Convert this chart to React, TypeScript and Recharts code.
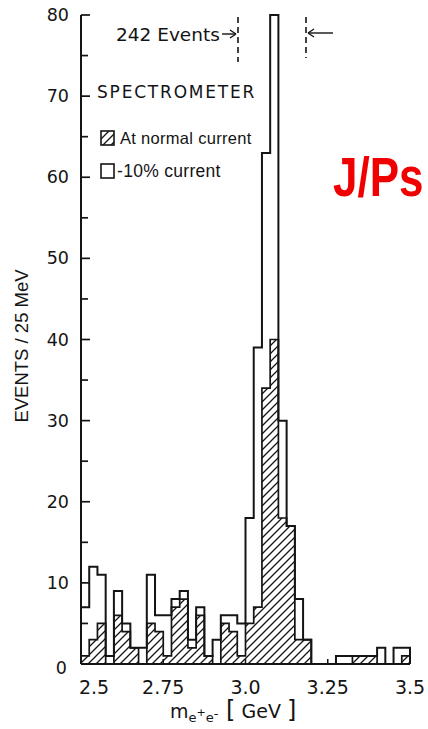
import React from 'react';
import { ComposedChart, Area, XAxis, YAxis } from 'recharts';

// lower edge of each 25 MeV bin
const binEdges = [
  2.5, 2.525, 2.55, 2.575, 2.6, 2.625, 2.65, 2.675, 2.7, 2.725,
  2.75, 2.775, 2.8, 2.825, 2.85, 2.875, 2.9, 2.925, 2.95, 2.975,
  3.0, 3.025, 3.05, 3.075, 3.1, 3.125, 3.15, 3.175, 3.2, 3.225,
  3.25, 3.275, 3.3, 3.325, 3.35, 3.375, 3.4, 3.425, 3.45, 3.475,
];
const rangeEnd = 3.5;

// open histogram (-10% current)
const totalCounts = [
  7, 12, 11, 1, 9, 5, 2, 2, 11, 6,
  6, 8, 9, 3, 7, 1, 3, 6, 6, 5,
  18, 39, 63, 80, 30, 17, 8, 3, 0, 0,
  0, 1, 1, 1, 1, 1, 2, 0, 2, 2,
];
// hatched histogram (normal current)
const normalCounts = [
  1, 3, 5, 0, 6, 4, 2, 0, 5, 4,
  1, 7, 8, 2, 6, 1, 0, 5, 4, 1,
  5, 7, 34, 40, 18, 17, 3, 3, 0, 0,
  0, 0, 0, 1, 1, 1, 0, 0, 0, 1,
];

const massTicks = [2.5, 2.75, 3.0, 3.25, 3.5];
const massTickLabels = ['2.5', '2.75', '3.0', '3.25', '3.5'];
const countTicks = [0, 5, 10, 15, 20, 25, 30, 35, 40, 45, 50, 55, 60, 65, 70, 75, 80];

const INK = '#141414';
const LETTER = '"DejaVu Sans", sans-serif';
const NARROW = '"Liberation Sans Narrow", "Liberation Sans", sans-serif';

const histData = binEdges
  .map((m, i) => ({ m, total: totalCounts[i], normal: normalCounts[i] }))
  .concat([{ m: rangeEnd, total: 0, normal: 0 }]);

const CountTick = ({ x, y, payload }: any) => {
  const major = payload.value % 10 === 0;
  const isZero = payload.value === 0;
  return (
    <g>
      <line x1={x} x2={x + (major ? 9 : 7)} y1={y} y2={y} stroke={INK} strokeWidth={1.7} />
      {major && (
        <text
          x={isZero ? x - 14 : x - 12}
          y={isZero ? y + 10 : y + 6}
          textAnchor="end"
          fontFamily={LETTER}
          fontSize={17.5}
          fill={INK}
        >
          {payload.value}
        </text>
      )}
    </g>
  );
};

const MassTick = ({ x, y, payload, index }: any) => {
  const first = index === 0;
  return (
    <g>
      <line x1={x} x2={x} y1={y} y2={y - 5} stroke={INK} strokeWidth={1.5} />
      <text
        x={first ? x + 13 : x}
        y={y + 30}
        textAnchor="middle"
        fontFamily={LETTER}
        fontSize={19}
        fill={INK}
      >
        {massTickLabels[massTicks.indexOf(payload.value)]}
      </text>
    </g>
  );
};

export default function App() {
  return (
    <div style={{ position: 'absolute', left: 0, top: 0, width: 428, height: 729, overflow: 'hidden', background: '#fff' }}>
      <svg width={0} height={0} style={{ position: 'absolute' }}>
        <defs>
          <pattern id="hatch" patternUnits="userSpaceOnUse" width={8} height={8}>
            <path d="M0,8 L8,0 M-2,2 L2,-2 M6,10 L10,6" stroke={INK} strokeWidth={1.3} />
          </pattern>
        </defs>
      </svg>

      <ComposedChart
        width={428}
        height={729}
        data={histData}
        margin={{ top: 15, right: 18, bottom: 0, left: 0 }}
      >
        <XAxis
          type="number"
          dataKey="m"
          domain={[2.5, 3.5]}
          ticks={massTicks}
          interval={0}
          height={65}
          tickSize={0}
          tickMargin={0}
          tickLine={false}
          axisLine={{ stroke: INK, strokeWidth: 2 }}
          tick={<MassTick />}
        />
        <YAxis
          type="number"
          domain={[0, 80]}
          ticks={countTicks}
          interval={0}
          width={81}
          tickSize={0}
          tickMargin={0}
          tickLine={false}
          axisLine={{ stroke: INK, strokeWidth: 2 }}
          tick={<CountTick />}
        />
        <Area
          type="stepAfter"
          dataKey="total"
          stroke={INK}
          strokeWidth={2}
          fill="none"
          isAnimationActive={false}
          dot={false}
          activeDot={false}
        />
        <Area
          type="stepAfter"
          dataKey="normal"
          stroke={INK}
          strokeWidth={1.7}
          fill="url(#hatch)"
          fillOpacity={1}
          isAnimationActive={false}
          dot={false}
          activeDot={false}
        />
      </ComposedChart>

      <svg width={428} height={729} style={{ position: 'absolute', left: 0, top: 0, pointerEvents: 'none' }}>
        {/* mass window markers */}
        <text x={116} y={41} fontFamily={LETTER} fontSize={18.5} fill={INK}>242 Events</text>
        <line x1={222} x2={236} y1={34} y2={34} stroke={INK} strokeWidth={1.4} />
        <path d="M236,34 L230,30 M236,34 L230,38" stroke={INK} strokeWidth={1.4} fill="none" />
        <line x1={238} x2={238} y1={17} y2={62} stroke={INK} strokeWidth={1.6} strokeDasharray="6 4" />
        <line x1={306} x2={306} y1={17} y2={58} stroke={INK} strokeWidth={1.6} strokeDasharray="6 4" />
        <line x1={308} x2={333} y1={33} y2={33} stroke={INK} strokeWidth={1.4} />
        <path d="M308,33 L314,29 M308,33 L314,37" stroke={INK} strokeWidth={1.4} fill="none" />

        <text x={97} y={98} fontFamily={LETTER} fontSize={17} letterSpacing={1.8} fill={INK}>SPECTROMETER</text>

        <rect x={101} y={131} width={13} height={14} fill="url(#hatch)" stroke={INK} strokeWidth={1.6} />
        <text x={120} y={144} fontFamily={NARROW} fontSize={16.5} letterSpacing={0.3} fill={INK}>At normal current</text>
        <rect x={101} y={164} width={13} height={14} fill="none" stroke={INK} strokeWidth={1.6} />
        <text x={117} y={177} fontFamily={NARROW} fontSize={17.5} letterSpacing={0.3} fill={INK}>-10% current</text>

        <text
          transform="translate(333,196) scale(0.8,1)"
          fontFamily={NARROW}
          fontWeight="bold"
          fontSize={55}
          fill="#f00000"
        >
          J/Ps
        </text>

        <text
          transform="translate(28,346) rotate(-90)"
          textAnchor="middle"
          fontFamily={NARROW}
          fontSize={18.5}
          fill={INK}
        >
          EVENTS / 25 MeV
        </text>

        <text x={170} y={718} fontFamily={LETTER} fontSize={19} fill={INK}>
          m
          <tspan fontSize={13} dy={4}>e</tspan>
          <tspan fontSize={11} dy={-6}>+</tspan>
          <tspan fontSize={13} dy={6}>e</tspan>
          <tspan fontSize={13} dy={-4}>-</tspan>
          <tspan fontSize={24} dy={0}> [</tspan>
          <tspan fontSize={19}> GeV </tspan>
          <tspan fontSize={24}>]</tspan>
        </text>
      </svg>
    </div>
  );
}
